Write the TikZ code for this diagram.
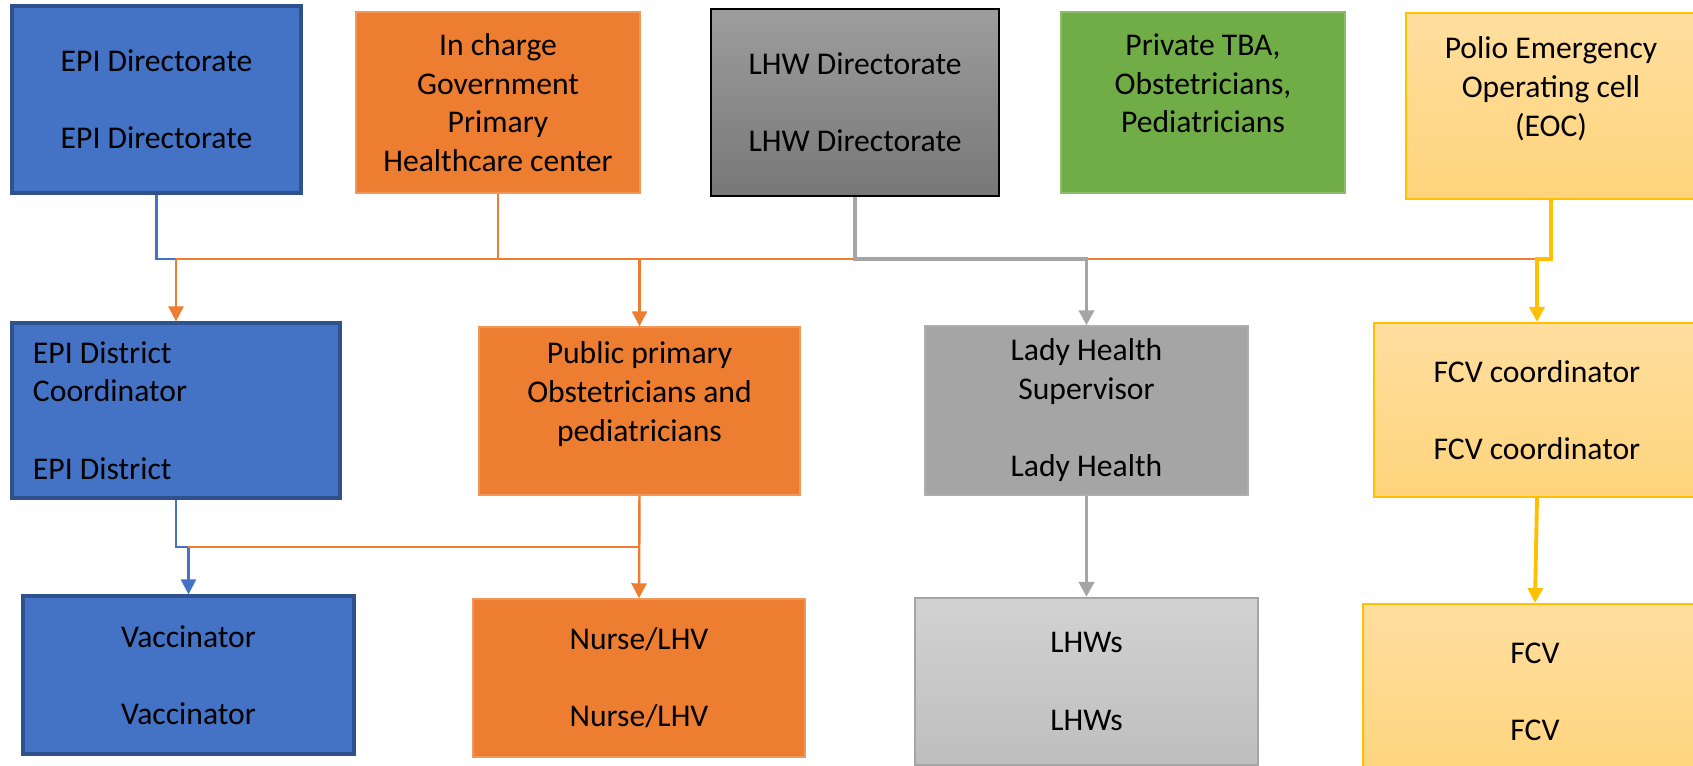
\documentclass[tikz,border=0pt]{standalone}
\usepackage{fontspec}
\setmainfont{Carlito}
\usetikzlibrary{arrows.meta}
\definecolor{epiblue}{HTML}{4472C4}
\definecolor{epiedge}{HTML}{2F528F}
\definecolor{govorange}{HTML}{ED7D31}
\definecolor{tbagreen}{HTML}{70AD47}
\definecolor{lhwgray}{HTML}{A5A5A5}
\definecolor{lhwtop}{HTML}{9D9D9D}
\definecolor{lhwbottom}{HTML}{777777}
\definecolor{workertop}{HTML}{D2D2D2}
\definecolor{workerbottom}{HTML}{BEBEBE}
\definecolor{eocgold}{HTML}{FFC000}
\definecolor{eoctop}{HTML}{FFDE9E}
\definecolor{eocbottom}{HTML}{FFD47C}

\begin{document}
\begin{tikzpicture}[x=1cm,y=1cm,
    box/.style={rectangle,align=center,inner sep=2pt,font=\fontsize{9}{11}\selectfont},
    bluebox/.style={box,fill=epiblue,draw=epiedge,line width=0.9pt},
    orangebox/.style={box,fill=govorange,draw=govorange!80!white,line width=0.4pt},
    dirbox/.style={box,top color=lhwtop,bottom color=lhwbottom,draw=black,line width=0.8pt},
    greenbox/.style={box,fill=tbagreen,draw=tbagreen!80!white,line width=0.4pt},
    goldbox/.style={box,top color=eoctop,bottom color=eocbottom,draw=eocgold,line width=0.6pt},
    supbox/.style={box,fill=lhwgray,draw=lhwgray!90!white,line width=0.4pt},
    workerbox/.style={box,top color=workertop,bottom color=workerbottom,draw=lhwgray,line width=0.6pt},
    tip/.style={-{Triangle[length=1.5mm,width=1.5mm]}},
    blueline/.style={epiblue,line width=0.7pt},
    orangeline/.style={govorange,line width=0.7pt},
    grayline/.style={lhwgray,line width=1.1pt},
    goldline/.style={eocgold,line width=1.1pt}]

    \useasboundingbox (0,0) rectangle (16.93,7.66);
    \clip (0,0) rectangle (16.93,7.66);

    % top row
    \node[bluebox,minimum width=2.89cm,minimum height=1.87cm] (epidir) at (1.565,6.665)
        {EPI Directorate\\~\\EPI Directorate};
    \node[orangebox,minimum width=2.84cm,minimum height=1.81cm] (charge) at (4.98,6.635)
        {In charge\\Government\\Primary\\Healthcare center};
    \node[dirbox,minimum width=2.88cm,minimum height=1.87cm] (lhwdir) at (8.55,6.635)
        {LHW Directorate\\~\\LHW Directorate};
    \node[greenbox,minimum width=2.84cm,minimum height=1.81cm] (private) at (12.03,6.635)
        {Private TBA,\\Obstetricians,\\Pediatricians\\~};
    \node[goldbox,minimum width=2.90cm,minimum height=1.86cm] (eoc) at (15.51,6.60)
        {Polio Emergency\\Operating cell\\(EOC)\\~};

    % middle row
    \node[bluebox,minimum width=3.28cm,minimum height=1.75cm,text width=2.86cm,
        inner xsep=0.21cm,align=flush left] (epidist) at (1.76,3.555)
        {EPI District\\Coordinator\\~\\EPI District};
    \node[orangebox,minimum width=3.21cm,minimum height=1.68cm] (public) at (6.395,3.55)
        {Public primary\\Obstetricians and\\pediatricians\\~};
    \node[supbox,minimum width=3.23cm,minimum height=1.69cm] (lhs) at (10.865,3.555)
        {Lady Health\\Supervisor\\~\\Lady Health};
    \node[goldbox,minimum width=3.26cm,minimum height=1.74cm] (fcvc) at (15.37,3.56)
        {FCV coordinator\\~\\FCV coordinator};

    % bottom row
    \node[bluebox,minimum width=3.31cm,minimum height=1.58cm] (vacc) at (1.885,0.91)
        {Vaccinator\\~\\Vaccinator};
    \node[orangebox,minimum width=3.32cm,minimum height=1.58cm] (nurse) at (6.39,0.88)
        {Nurse/LHV\\~\\Nurse/LHV};
    \node[workerbox,minimum width=3.43cm,minimum height=1.67cm] (lhws) at (10.865,0.845)
        {LHWs\\~\\LHWs};
    \node[goldbox,minimum width=3.44cm,minimum height=1.76cm] (fcv) at (15.35,0.74)
        {FCV\\~\\FCV};

    % upper bus
    \coordinate (busL) at (1.76,5.07);
    \coordinate (busR) at (15.37,5.07);
    \draw[blueline] (epidir.south) |- (busL);
    \draw[orangeline] (charge.south) -- (charge.south |- busL);
    \draw[orangeline] (busL) -- (busR);
    \draw[orangeline,tip] (busL) -- (epidist.north);
    \draw[orangeline,tip] (public.north |- busL) -- (public.north);
    \draw[grayline,tip] (lhwdir.south) |- (lhs.north |- busL) -- (lhs.north);
    \draw[goldline,tip] (eoc.south) |- (busR) -- (fcvc.north);

    % lower bus
    \coordinate (lowL) at (1.885,2.19);
    \draw[blueline,tip] (epidist.south) |- (lowL) -- (vacc.north);
    \draw[orangeline] (lowL) -- (lowL -| public.south);
    \draw[orangeline,tip] (public.south) -- (nurse.north);
    \draw[grayline,tip] (lhs.south) -- (lhws.north);
    \draw[goldline,tip] (fcvc.south) -- (fcv.north);
\end{tikzpicture}
\end{document}
